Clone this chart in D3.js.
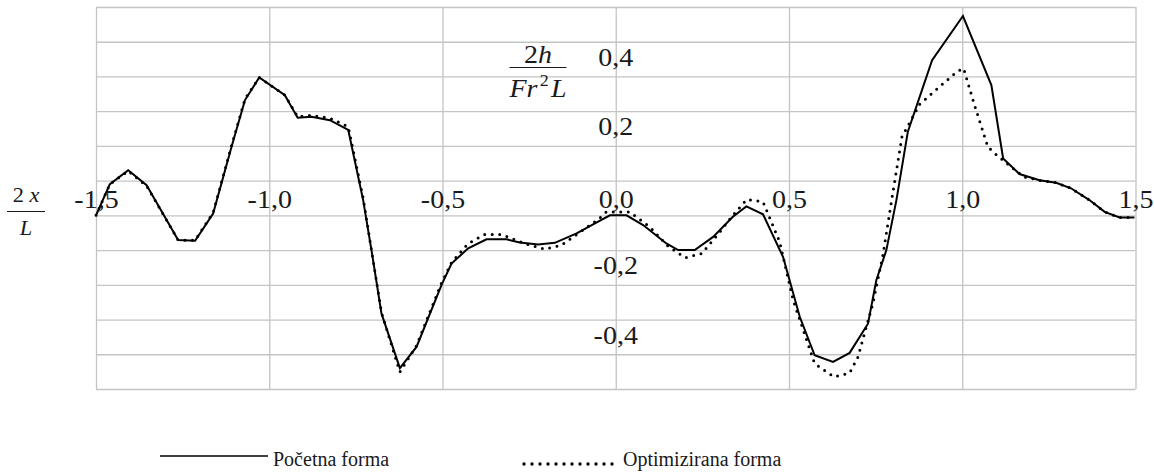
<!DOCTYPE html>
<html>
<head>
<meta charset="utf-8">
<script src="https://cdn.jsdelivr.net/npm/d3@7"></script>
<style>
  html, body { margin: 0; padding: 0; background: #fff; }
  svg { display: block; }
</style>
</head>
<body>
<svg id="chart" width="1154" height="475"></svg>
<script>
// ---- data ----
const seriesNames = ["Početna forma", "Optimizirana forma"];

const xInitial = [-1.5, -1.46, -1.407, -1.354, -1.263, -1.214, -1.162, -1.109, -1.07, -1.029, -0.955, -0.918, -0.878, -0.825, -0.772, -0.729, -0.705, -0.676, -0.623, -0.575, -0.503, -0.474, -0.426, -0.373, -0.315, -0.277, -0.224, -0.176, -0.113, -0.056, -0.017, 0.031, 0.079, 0.146, 0.18, 0.228, 0.281, 0.338, 0.377, 0.425, 0.483, 0.531, 0.574, 0.627, 0.675, 0.728, 0.752, 0.781, 0.81, 0.843, 0.913, 1.002, 1.084, 1.118, 1.165, 1.223, 1.271, 1.314, 1.367, 1.411, 1.454, 1.497];
const yInitial = [0.0, 0.09, 0.13, 0.087, -0.071, -0.073, 0.005, 0.197, 0.332, 0.397, 0.346, 0.281, 0.284, 0.274, 0.246, 0.044, -0.1, -0.283, -0.44, -0.379, -0.201, -0.139, -0.095, -0.069, -0.069, -0.078, -0.084, -0.079, -0.052, -0.021, 0.0, 0.0, -0.028, -0.081, -0.1, -0.1, -0.062, -0.004, 0.026, 0.003, -0.12, -0.292, -0.403, -0.422, -0.396, -0.312, -0.187, -0.1, 0.044, 0.241, 0.447, 0.574, 0.375, 0.164, 0.119, 0.101, 0.094, 0.078, 0.044, 0.01, -0.006, -0.006];

const xOptimized = [-1.5, -1.46, -1.407, -1.354, -1.263, -1.214, -1.162, -1.109, -1.07, -1.029, -0.955, -0.918, -0.878, -0.825, -0.772, -0.729, -0.705, -0.676, -0.623, -0.575, -0.503, -0.474, -0.426, -0.378, -0.33, -0.263, -0.205, -0.157, -0.104, -0.051, -0.027, 0.04, 0.098, 0.151, 0.2, 0.248, 0.3, 0.338, 0.378, 0.425, 0.473, 0.512, 0.574, 0.63, 0.675, 0.699, 0.742, 0.771, 0.798, 0.826, 0.877, 0.933, 0.985, 1.004, 1.034, 1.074, 1.1, 1.177, 1.223, 1.271, 1.314, 1.367, 1.411, 1.454, 1.497];
const yOptimized = [0.0, 0.09, 0.128, 0.085, -0.071, -0.072, 0.008, 0.2, 0.335, 0.397, 0.346, 0.284, 0.288, 0.28, 0.255, 0.05, -0.1, -0.28, -0.451, -0.375, -0.195, -0.136, -0.081, -0.055, -0.055, -0.081, -0.097, -0.086, -0.049, -0.012, 0.01, 0.01, -0.033, -0.089, -0.122, -0.11, -0.048, 0.0, 0.046, 0.039, -0.076, -0.244, -0.427, -0.465, -0.454, -0.408, -0.254, -0.115, 0.055, 0.226, 0.32, 0.369, 0.414, 0.423, 0.322, 0.197, 0.173, 0.111, 0.101, 0.094, 0.078, 0.044, 0.01, -0.006, -0.006];

const xGridTicks = [-1.5, -1.0, -0.5, 0.0, 0.5, 1.0, 1.5];
const yGridTicks = [-0.5, -0.4, -0.3, -0.2, -0.1, 0.0, 0.1, 0.2, 0.3, 0.4, 0.5, 0.6];
const xTickLabels = [-1.5, -1.0, -0.5, 0.0, 0.5, 1.0, 1.5];
const yTickLabels = [-0.4, -0.2, 0.2, 0.4];

// ---- layout ----
const svg = d3.select("#chart");
const W = 1154, H = 475;
const plot = { left: 96, right: 1135.5, top: 7, bottom: 389 };
const x = d3.scaleLinear().domain([-1.5, 1.5]).range([plot.left, plot.right]);
const y = d3.scaleLinear().domain([-0.5, 0.6]).range([plot.bottom, plot.top]);
const fmt = v => v.toFixed(1).replace(".", ",");
const serif = "'Liberation Serif', 'Times New Roman', serif";
const stretch = "scale(1.12,1)";
const gridColor = "#c4c4c4";
const textColor = "#1a1a1a";

svg.append("rect").attr("width", W).attr("height", H).attr("fill", "#fff");

// vertical gridlines
const gx = svg.append("g").attr("transform", `translate(0,${plot.bottom})`)
  .call(d3.axisBottom(x).tickValues(xGridTicks).tickSize(-(plot.bottom - plot.top)).tickFormat(""));
gx.select(".domain").remove();
gx.selectAll("line").attr("stroke", gridColor).attr("stroke-width", 1.3);

// horizontal gridlines
const gy = svg.append("g").attr("transform", `translate(${plot.left},0)`)
  .call(d3.axisLeft(y).tickValues(yGridTicks).tickSize(-(plot.right - plot.left)).tickFormat(""));
gy.select(".domain").remove();
gy.selectAll("line").attr("stroke", gridColor).attr("stroke-width", 1.3);

// x tick labels (above the y=0 axis line)
const xl = svg.append("g").attr("transform", `translate(0,${y(0)})`)
  .call(d3.axisTop(x).tickValues(xTickLabels).tickSize(0).tickPadding(7).tickFormat(fmt));
xl.select(".domain").remove();
xl.selectAll("text").attr("font-family", serif).attr("font-size", 25).attr("fill", textColor)
  .attr("transform", stretch);

// y tick labels (centered on the x=0 axis line)
const yl = svg.append("g").attr("transform", `translate(${x(0)},0)`)
  .call(d3.axisRight(y).tickValues(yTickLabels).tickSize(0).tickPadding(0).tickFormat(fmt));
yl.select(".domain").remove();
yl.selectAll("text").attr("font-family", serif).attr("font-size", 25).attr("fill", textColor)
  .attr("text-anchor", "middle").attr("x", 0).attr("dy", -11).attr("transform", stretch);

// ---- series ----
const line = d3.line().x(d => x(d[0])).y(d => y(d[1]));
const initData = xInitial.map((v, i) => [v, yInitial[i]]);
const optData = xOptimized.map((v, i) => [v, yOptimized[i]]);

svg.append("path").datum(optData).attr("d", line)
  .attr("fill", "none").attr("stroke", "#000").attr("stroke-width", 3)
  .attr("stroke-linecap", "round").attr("stroke-dasharray", "0,7.5");

svg.append("path").datum(initData).attr("d", line)
  .attr("fill", "none").attr("stroke", "#000").attr("stroke-width", 2)
  .attr("stroke-linejoin", "miter");

// ---- axis titles (fractions) ----
function fraction(cx, yTop, yBar, yBottom, barHalf, size, topParts, bottomParts) {
  const g = svg.append("g").attr("font-family", serif).attr("font-size", size).attr("fill", textColor);
  const t = g.append("text").attr("x", 0).attr("y", 0).attr("text-anchor", "middle")
    .attr("transform", `translate(${cx},${yTop}) scale(1.12,1)`);
  topParts.forEach(p => t.append("tspan").attr("font-style", p[1]).attr("dy", p[2] || 0)
    .attr("font-size", p[3] || null).text(p[0]));
  g.append("line").attr("x1", cx - barHalf).attr("x2", cx + barHalf).attr("y1", yBar).attr("y2", yBar)
    .attr("stroke", textColor).attr("stroke-width", 1);
  const b = g.append("text").attr("x", 0).attr("y", 0).attr("text-anchor", "middle")
    .attr("transform", `translate(${cx},${yBottom}) scale(1.12,1)`);
  bottomParts.forEach(p => b.append("tspan").attr("font-style", p[1]).attr("dy", p[2] || 0)
    .attr("font-size", p[3] || null).attr("dx", p[4] || null).text(p[0]));
}
fraction(538, 63, 67.5, 97, 28.5, 25,
  [["2", "normal"], ["h", "italic"]],
  [["Fr", "italic"], ["2", "normal", -11, 16, 2], ["L", "italic", 11, null, 2]]);
fraction(26, 201.5, 211.5, 235, 19, 20,
  [["2 ", "normal"], ["x", "italic"]],
  [["L", "italic"]]);

// ---- legend ----
const leg = svg.append("g").attr("font-family", serif).attr("font-size", 20).attr("fill", textColor);
const legendItems = [
  { name: seriesNames[0], x1: 160, x2: 268, dash: null, ly: 456, tx: 273 },
  { name: seriesNames[1], x1: 524, x2: 617, dash: "0,8", ly: 464, tx: 623 }
];
legendItems.forEach(d => {
  leg.append("line").attr("x1", d.x1).attr("x2", d.x2).attr("y1", d.ly).attr("y2", d.ly)
    .attr("stroke", "#000").attr("stroke-width", d.dash ? 3.3 : 1.3)
    .attr("stroke-linecap", d.dash ? "round" : "butt")
    .attr("stroke-dasharray", d.dash);
  leg.append("text").attr("x", d.tx).attr("y", 466).text(d.name);
});
</script>
</body>
</html>
